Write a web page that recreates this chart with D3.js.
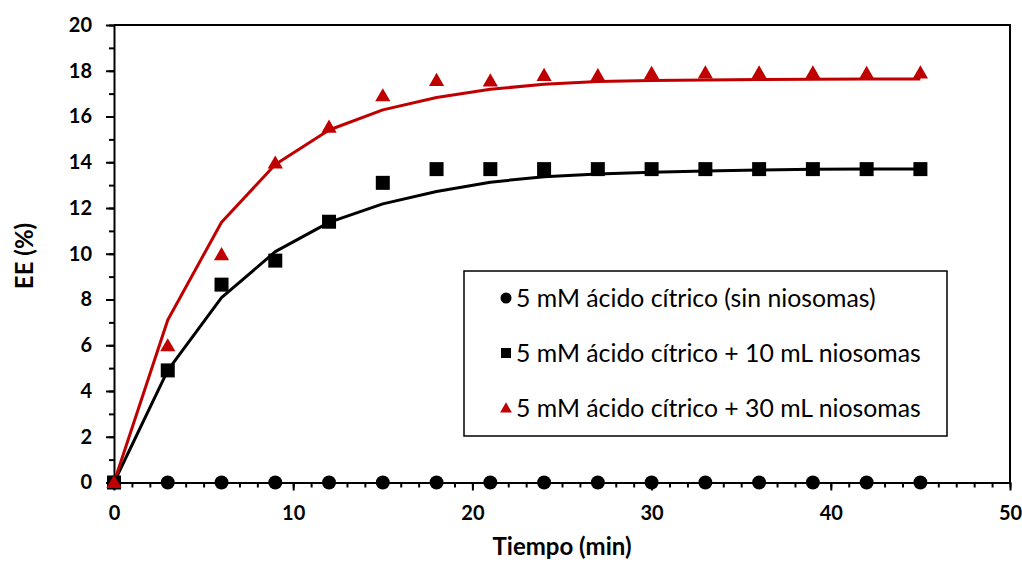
<!DOCTYPE html>
<html>
<head>
<meta charset="utf-8">
<script src="https://cdn.jsdelivr.net/npm/d3@7"></script>
<style>
  body { margin: 0; background: #fff; }
  svg { font-family: Lato, "Open Sans", sans-serif; }
</style>
</head>
<body>
<div id="chart"></div>
<script>
// data ----------------------------------------------------------------
var tiempo = [0, 3, 6, 9, 12, 15, 18, 21, 24, 27, 30, 33, 36, 39, 42, 45];

var sinNiosomas = [0, 0, 0, 0, 0, 0, 0, 0, 0, 0, 0, 0, 0, 0, 0, 0];
var niosomas10 = [0, 4.9, 8.65, 9.7, 11.4, 13.1, 13.7, 13.7, 13.7, 13.7, 13.7, 13.7, 13.7, 13.7, 13.7, 13.7];
var niosomas30 = [0, 5.97, 9.95, 13.96, 15.53, 16.9, 17.57, 17.55, 17.79, 17.78, 17.88, 17.9, 17.9, 17.9, 17.88, 17.9];

// fitted curves
var ajuste10 = [0, 4.9, 8.08, 10.09, 11.37, 12.18, 12.72, 13.13, 13.37, 13.49, 13.56, 13.62, 13.66, 13.69, 13.7, 13.71];
var ajuste30 = [0, 7.1, 11.38, 13.9, 15.41, 16.29, 16.83, 17.19, 17.41, 17.53, 17.57, 17.6, 17.62, 17.63, 17.64, 17.64];

var xTicks = [0, 10, 20, 30, 40, 50];
var yTicks = [0, 2, 4, 6, 8, 10, 12, 14, 16, 18, 20];

var legendLabels = ["5 mM ácido cítrico (sin niosomas)",
                    "5 mM ácido cítrico + 10 mL niosomas",
                    "5 mM ácido cítrico + 30 mL niosomas"];
//-----------------------------------------------------------------------

var W = 1022, H = 562;
var margin = {top: 25, right: 12, bottom: 79.5, left: 114};
var red = "#c00000";

var svg = d3.select("#chart").append("svg")
  .attr("width", W).attr("height", H);

var x = d3.scaleLinear().domain([0, 50]).range([margin.left, W - margin.right]);
var y = d3.scaleLinear().domain([0, 20]).range([H - margin.bottom, margin.top]);

// minor ticks every 1 unit
var xMinor = d3.range(0, 51, 1);
var yMinor = d3.range(0, 21, 1);

svg.append("g")
  .attr("transform", "translate(0," + y(0) + ")")
  .call(d3.axisBottom(x).tickValues(xMinor).tickSize(5).tickFormat(""))
  .call(function(g){ g.select(".domain").remove(); })
  .selectAll("line").attr("stroke-width", 2);

svg.append("g")
  .attr("transform", "translate(" + x(0) + ",0)")
  .call(d3.axisLeft(y).tickValues(yMinor).tickSize(5).tickFormat(""))
  .call(function(g){ g.select(".domain").remove(); })
  .selectAll("line").attr("stroke-width", 2);

var xAxis = svg.append("g")
  .attr("transform", "translate(0," + y(0) + ")")
  .call(d3.axisBottom(x).tickValues(xTicks).tickSize(8).tickPadding(15).tickSizeOuter(0));
var yAxis = svg.append("g")
  .attr("transform", "translate(" + x(0) + ",0)")
  .call(d3.axisLeft(y).tickValues(yTicks).tickSize(8).tickPadding(14).tickSizeOuter(0));

[xAxis, yAxis].forEach(function(g){
  g.select(".domain").attr("stroke-width", 2);
  g.selectAll("line").attr("stroke-width", 2);
  g.selectAll("text").attr("font-size", 20).attr("font-weight", "bold")
    .attr("fill", "#000").attr("font-family", "Lato, sans-serif");
});

// top and right frame
svg.append("path")
  .attr("d", "M" + x(0) + "," + y(20) + "H" + x(50) + "V" + y(0))
  .attr("fill", "none").attr("stroke", "#000").attr("stroke-width", 2);

// fitted lines
var line = d3.line()
  .x(function(d, i){ return x(tiempo[i]); })
  .y(function(d){ return y(d); });

svg.append("path").datum(ajuste10)
  .attr("d", line).attr("fill", "none").attr("stroke", "#000").attr("stroke-width", 3)
  .attr("stroke-linejoin", "round");
svg.append("path").datum(ajuste30)
  .attr("d", line).attr("fill", "none").attr("stroke", red).attr("stroke-width", 3)
  .attr("stroke-linejoin", "round");

// markers
svg.append("g").selectAll("circle")
  .data(sinNiosomas).enter().append("circle")
  .attr("cx", function(d, i){ return x(tiempo[i]); })
  .attr("cy", function(d){ return y(d); })
  .attr("r", 7).attr("fill", "#000");

var sq = d3.symbol().type(d3.symbolSquare).size(196);
svg.append("g").selectAll("path")
  .data(niosomas10).enter().append("path")
  .attr("d", sq)
  .attr("transform", function(d, i){ return "translate(" + x(tiempo[i]) + "," + y(d) + ")"; })
  .attr("fill", "#000");

var tri = d3.symbol().type(d3.symbolTriangle).size(100);
svg.append("g").selectAll("path")
  .data(niosomas30).enter().append("path")
  .attr("d", tri)
  .attr("transform", function(d, i){ return "translate(" + x(tiempo[i]) + "," + (y(d) + 1) + ")"; })
  .attr("fill", red);

// legend
var lg = svg.append("g");
lg.append("rect")
  .attr("x", 464).attr("y", 271).attr("width", 483).attr("height", 165)
  .attr("fill", "#fff").attr("stroke", "#000").attr("stroke-width", 1.5);

var rowY = [298, 353, 408];
lg.append("circle").attr("cx", 506).attr("cy", rowY[0]).attr("r", 5.5).attr("fill", "#000");
lg.append("path").attr("d", d3.symbol().type(d3.symbolSquare).size(100))
  .attr("transform", "translate(506," + rowY[1] + ")").attr("fill", "#000");
lg.append("path").attr("d", d3.symbol().type(d3.symbolTriangle).size(60))
  .attr("transform", "translate(506," + (rowY[2] + 1) + ")").attr("fill", red);

var labs = lg.selectAll("text.lab").data(legendLabels).enter().append("text")
  .attr("class", "lab")
  .attr("x", 516)
  .attr("y", function(d, i){ return rowY[i]; })
  .attr("dy", "0.36em")
  .attr("font-size", 20)
  .text(function(d){ return d; });

// fit the longest label to the width it has in the picture (~405px)
var longest = d3.max(labs.nodes(), function(n){ return n.getComputedTextLength(); });
labs.attr("font-size", 20 * 405 / longest);

// axis titles
svg.append("text")
  .attr("x", x(25)).attr("y", 555)
  .attr("text-anchor", "middle")
  .attr("font-size", 24).attr("font-weight", "bold")
  .text("Tiempo (min)");

svg.append("text")
  .attr("transform", "translate(33,256) rotate(-90)")
  .attr("text-anchor", "middle")
  .attr("font-size", 24).attr("font-weight", "bold")
  .text("EE (%)");
</script>
</body>
</html>
